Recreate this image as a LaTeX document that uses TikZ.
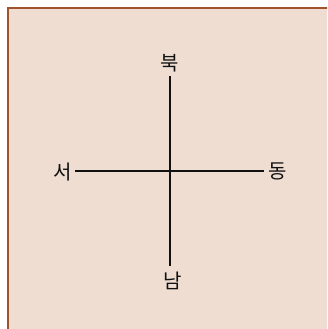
\documentclass[tikz,border=0pt]{standalone}
\usepackage{fontspec}
\newfontfamily\kr{Noto Sans CJK KR}
\definecolor{bgfill}{HTML}{EFDDD1}
\definecolor{bgedge}{HTML}{A0522D}
\definecolor{ink}{HTML}{111111}
\begin{document}
\begin{tikzpicture}[x=1pt,y=-1pt,
  lbl/.style={font=\kr\fontsize{20}{20}\selectfont, text=ink, inner sep=0pt},
  axis/.style={draw=ink, line width=1.7pt}]
\useasboundingbox (0,0) rectangle (327,329);
\clip (0,0) rectangle (327,329);
\draw[fill=bgfill, draw=bgedge, line width=2pt] (7.5,8.5) rectangle (340,345);
\node[lbl] (N) at (169.5,63) {북};
\node[lbl] (S) at (172.5,280.5) {남};
\node[lbl] (W) at (62.5,172) {서};
\node[lbl] (E) at (278,171) {동};
\coordinate (C) at (170,170.7);
\coordinate (nt) at (170,76);
\coordinate (sb) at (170,266);
\coordinate (wl) at (75,170.7);
\coordinate (er) at (264,170.7);
\draw[axis] (nt) -- (sb);
\draw[axis] (wl) -- (er);
\end{tikzpicture}
\end{document}
